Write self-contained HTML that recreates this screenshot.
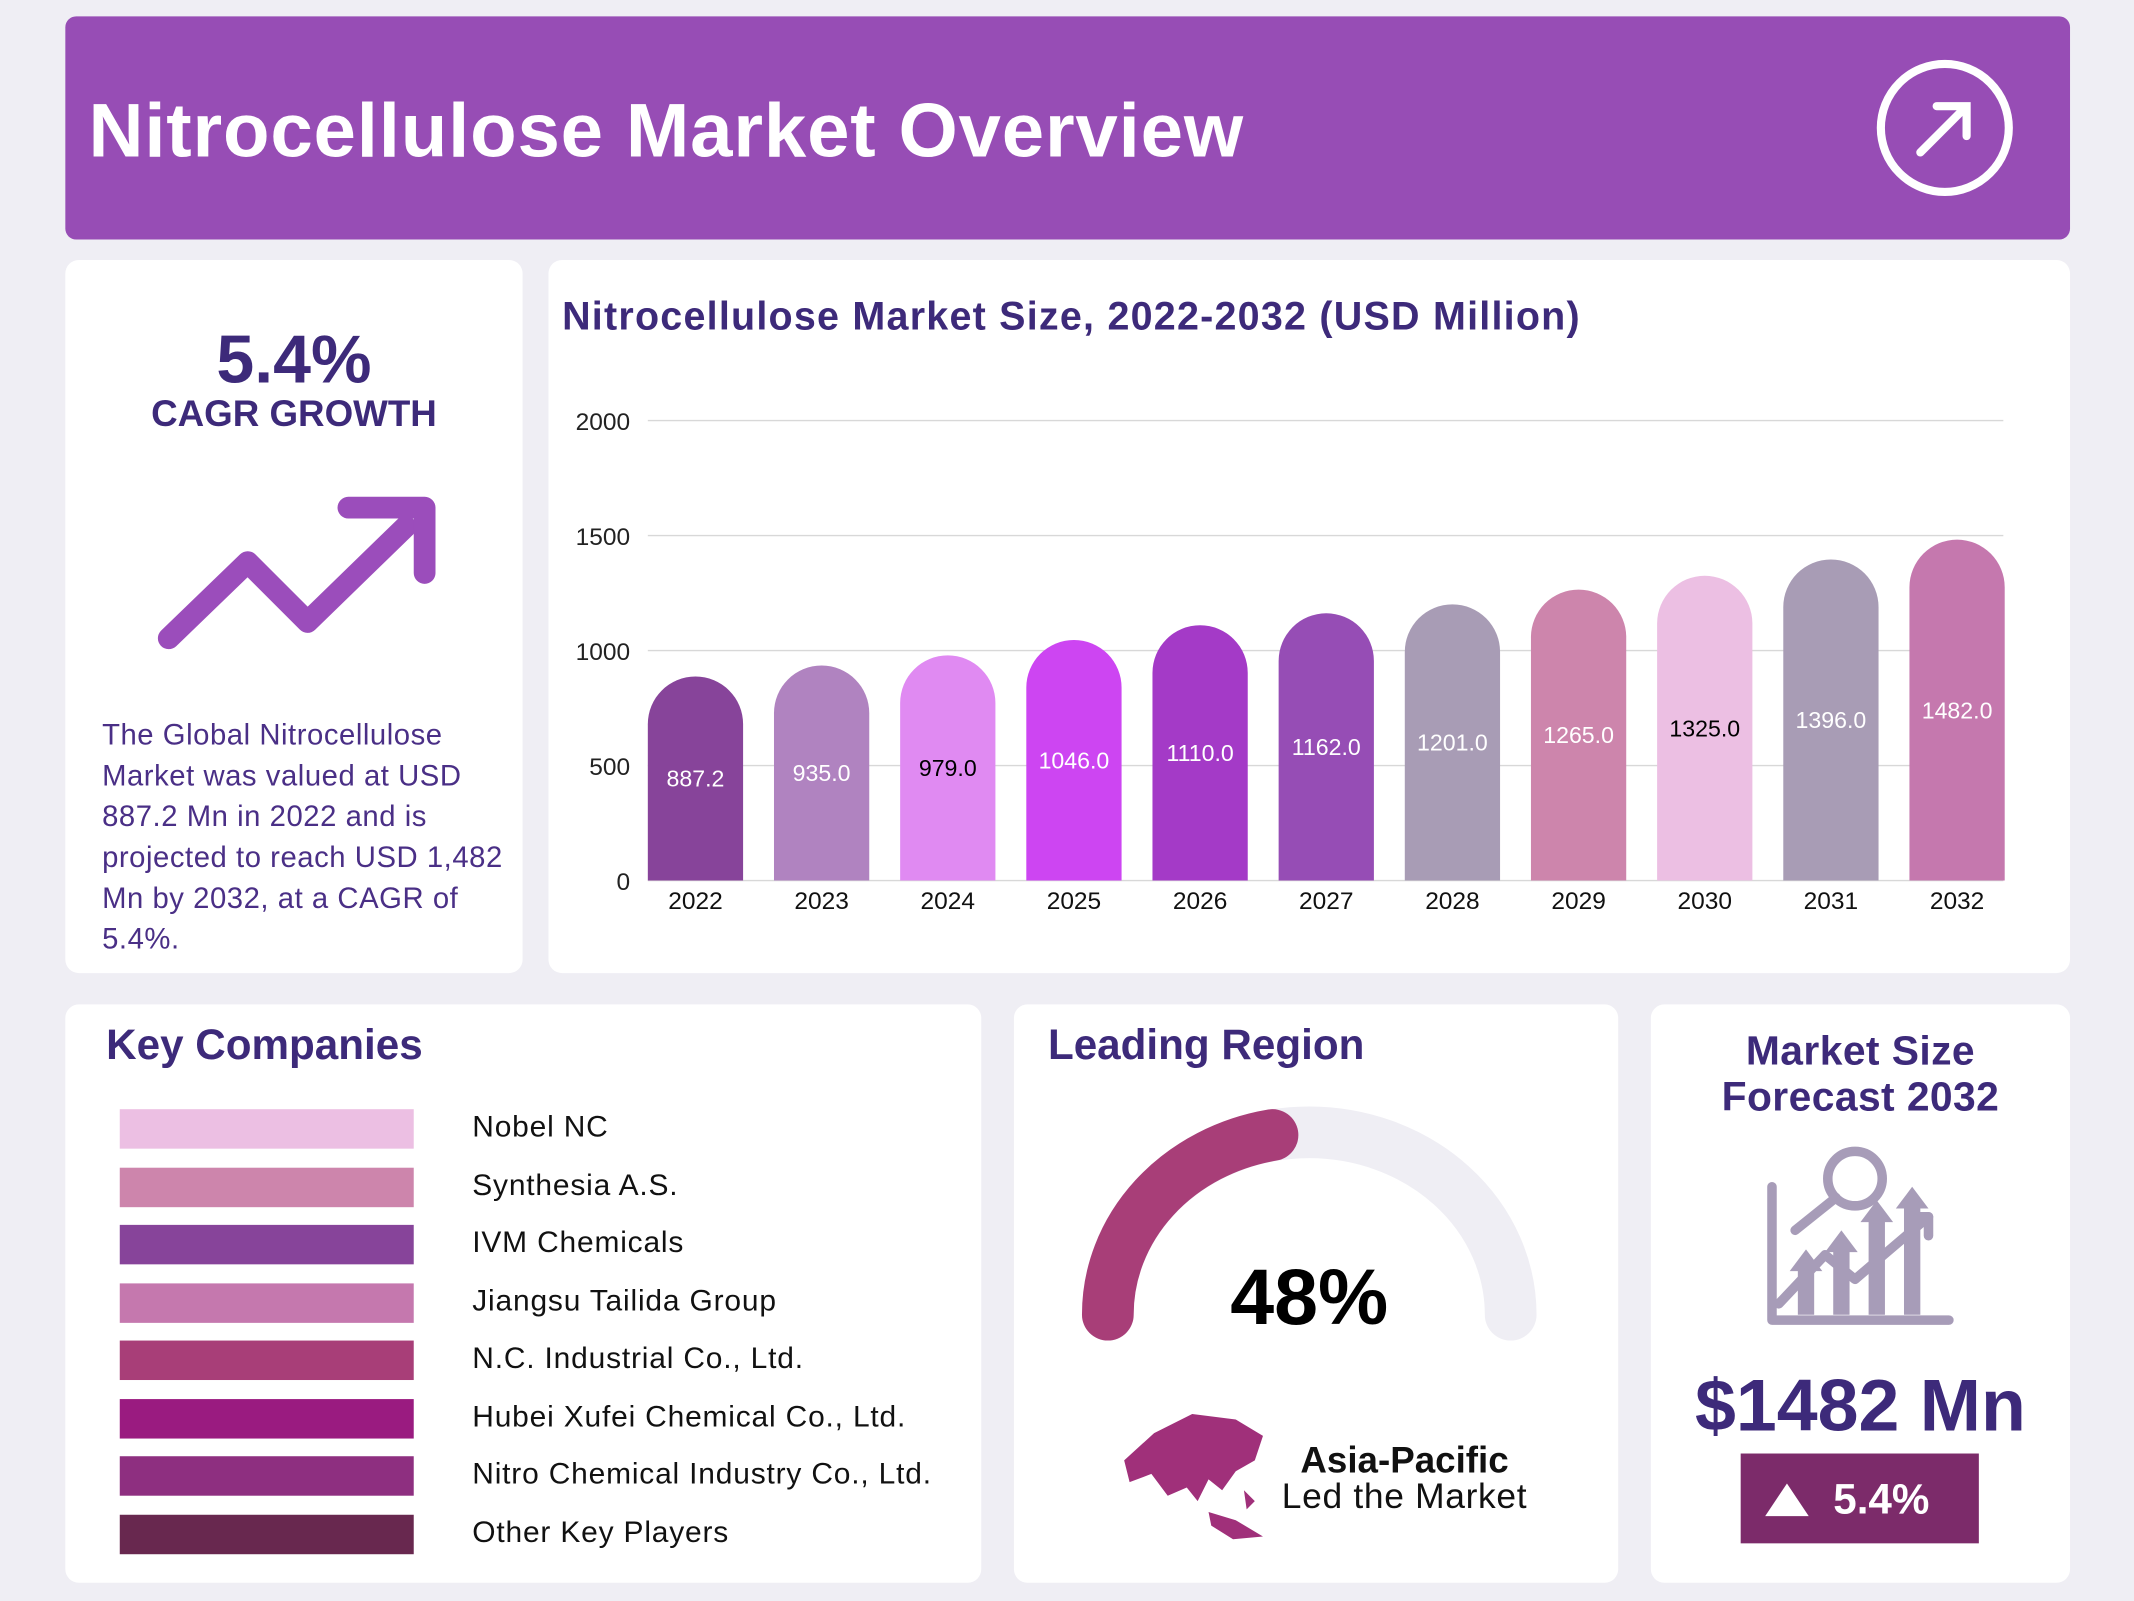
<!DOCTYPE html>
<html><head><meta charset="utf-8"><style>
html,body{margin:0;padding:0;width:2134px;height:1600px;overflow:hidden;background:#efeef4;}
#s{position:absolute;left:0;top:0;width:1568px;height:1176px;transform:scale(1.36097);transform-origin:0 0;font-family:"Liberation Sans","DejaVu Sans",sans-serif;}
.card{position:absolute;background:#fff;border-radius:10px;}
.t{position:absolute;white-space:nowrap;}
</style></head><body><div id="s">
<div class="card" style="left:48px;top:12px;width:1473px;height:164px;background:#974db5;border-radius:8px;">
 <div class="t" style="left:17px;top:51px;font-size:56px;letter-spacing:0.6px;font-weight:bold;color:#fff;">Nitrocellulose Market Overview</div>
 <svg style="position:absolute;left:1329px;top:30px" width="104" height="104"><circle cx="52" cy="52" r="47" fill="none" stroke="#fff" stroke-width="6"/><path d="M34 70 L68 36 M46 36 H68 V58" fill="none" stroke="#fff" stroke-width="6" stroke-linecap="round"/></svg>
</div>

<div class="card" style="left:48px;top:191px;width:336px;height:524px;">
 <div class="t" style="left:0;width:336px;text-align:center;top:44px;font-size:50px;font-weight:bold;color:#3d2a7a;">5.4%</div>
 <div class="t" style="left:0;width:336px;text-align:center;top:98px;font-size:27px;font-weight:bold;color:#3d2a7a;">CAGR GROWTH</div>
 <svg style="position:absolute;left:60px;top:170px" width="220" height="120"><path d="M16 108 L74 52 L118 96 L190 26" fill="none" stroke="#9b4dbb" stroke-width="16" stroke-linecap="round" stroke-linejoin="round"/><path d="M148 12 H204 V60" fill="none" stroke="#9b4dbb" stroke-width="16" stroke-linecap="round" stroke-linejoin="round"/></svg>
 <div style="position:absolute;left:27px;top:334px;width:312px;font-size:21.5px;letter-spacing:0.4px;line-height:30px;color:#4a2f86;">The Global Nitrocellulose Market was valued at USD 887.2 Mn in 2022 and is projected to reach USD 1,482 Mn by 2032, at a CAGR of 5.4%.</div>
</div>

<div class="card" style="left:403px;top:191px;width:1118px;height:524px;">
 <div class="t" style="left:10px;top:26px;font-size:29px;letter-spacing:0.9px;font-weight:bold;color:#3d2a7a;">Nitrocellulose Market Size, 2022-2032 (USD Million)</div>
</div>
<svg id="chart" style="position:absolute;left:0;top:0" width="1568" height="720"></svg>

<div class="card" style="left:48px;top:738px;width:673px;height:425px;">
 <div class="t" style="left:30px;top:12px;font-size:31px;font-weight:bold;color:#3d2a7a;">Key Companies</div>
 <div id="comp"></div>
</div>

<div class="card" style="left:745px;top:738px;width:444px;height:425px;">
 <div class="t" style="left:25px;top:12px;font-size:31px;font-weight:bold;color:#3d2a7a;">Leading Region</div>
 <svg style="position:absolute;left:0;top:60px" width="444" height="200">
  <path d="M69 168 A148 134 0 0 1 365 168" fill="none" stroke="#efeef4" stroke-width="38" stroke-linecap="round"/>
  <path d="M69 168 A148 134 0 0 1 190 36" fill="none" stroke="#a83e78" stroke-width="38" stroke-linecap="round"/>
 </svg>
 <div class="t" style="left:0;width:434px;text-align:center;top:182px;font-size:58px;font-weight:bold;color:#000;">48%</div>
 <svg style="position:absolute;left:73px;top:295px" width="120" height="102"><path d="M8 40 L30 20 L58 6 L90 10 L110 22 L104 40 L90 48 L80 62 L70 54 L62 70 L54 60 L40 66 L28 50 L12 56 Z M70 78 L90 84 L110 96 L88 98 L72 88 Z M96 62 L104 70 L98 76 Z" fill="#a0307a"/></svg>
 <div class="t" style="left:187px;width:200px;text-align:center;top:320px;font-size:27px;font-weight:bold;color:#111;">Asia-Pacific</div>
 <div class="t" style="left:187px;width:200px;text-align:center;top:346px;font-size:26px;letter-spacing:0.5px;color:#111;">Led the Market</div>
</div>

<div class="card" style="left:1213px;top:738px;width:308px;height:425px;">
 <div style="position:absolute;left:0;width:308px;text-align:center;top:18px;font-size:30px;letter-spacing:0.3px;line-height:34px;font-weight:bold;color:#3d2a7a;">Market Size<br>Forecast 2032</div>
 <svg style="position:absolute;left:84px;top:100px" width="140" height="140">
  <g fill="none" stroke="#a79cb8" stroke-width="7" stroke-linecap="round" stroke-linejoin="round"><path d="M5 34 V132 H135"/><path d="M10 120 L44 84 L66 102 L120 56"/><path d="M106 56 H120 V70"/><circle cx="66" cy="28" r="20"/><path d="M52 42 L22 66"/></g>
  <g fill="#a79cb8"><path d="M24 128 V96 H18 L30 80 L42 96 H36 V128Z"/><path d="M50 128 V82 H44 L56 66 L68 82 H62 V128Z"/><path d="M76 128 V60 H70 L82 44 L94 60 H88 V128Z"/><path d="M102 128 V50 H96 L108 34 L120 50 H114 V128Z"/></g>
 </svg>
 <div class="t" style="left:0;width:308px;text-align:center;top:264px;font-size:54px;font-weight:bold;color:#3d2a7a;">$1482 Mn</div>
 <div style="position:absolute;left:66px;top:330px;width:175px;height:66px;background:#7c2b6a;">
  <svg style="position:absolute;left:16px;top:20px" width="36" height="28"><path d="M18 2 L34 26 H2Z" fill="#fff"/></svg>
  <div class="t" style="left:68px;top:16px;font-size:31px;font-weight:bold;color:#fff;">5.4%</div>
 </div>
</div>
</div>
<script>
const years=["2022","2023","2024","2025","2026","2027","2028","2029","2030","2031","2032"];
const values=[887.2,935.0,979.0,1046.0,1110.0,1162.0,1201.0,1265.0,1325.0,1396.0,1482.0];
const barColors=["#87449a","#b083c0","#e08af2","#cd45f2","#a43ac7","#964db5","#a89cb5","#cd85ac","#ecbfe3","#a89cb5","#c578ae"];
const labelColors=["#fff","#fff","#000","#fff","#fff","#fff","#fff","#fff","#000","#fff","#fff"];
const yTicks=[0,500,1000,1500,2000];
const companies=["Nobel NC","Synthesia A.S.","IVM Chemicals","Jiangsu Tailida Group","N.C. Industrial Co., Ltd.","Hubei Xufei Chemical Co., Ltd.","Nitro Chemical Industry Co., Ltd.","Other Key Players"];
const companyColors=["#ecbfe3","#cd85ac","#87449a","#c578ae","#a83e78","#9a1b80","#8e2f80","#68284f"];
const NS="http://www.w3.org/2000/svg";
const svg=document.getElementById('chart');
const y0=647,yMax=2000,plotH=338,x0=476,step=92.7,bw=70;
const ys=v=>y0-v/yMax*plotH;
const xs=i=>x0+i*step+bw/2;
function mk(t,a){const e=document.createElementNS(NS,t);for(const k in a)e.setAttribute(k,a[k]);svg.appendChild(e);return e;}
yTicks.forEach((t,i)=>{
 const l=mk('line',{x1:476,x2:1472,y1:ys(t),y2:ys(t),stroke:'#d8d8d8','stroke-width':1});
 
 
 const tx=mk('text',{x:463,y:ys(t)+7,'text-anchor':'end','font-size':18,fill:'#222'});
 tx.textContent=t;
 
 
});
values.forEach((v,i)=>{
 const cx=xs(i),top=ys(v),r=bw/2,l=cx-r,rt=cx+r;
 const p=mk('path',{d:`M${l} ${y0} V${top+r} A${r} ${r} 0 0 1 ${rt} ${top+r} V${y0} Z`,fill:barColors[i]});
 
 
 const vt=mk('text',{x:cx,y:(top+y0)/2+6,'text-anchor':'middle','font-size':17,fill:labelColors[i]});
 vt.textContent=v.toFixed(1);
 
 
 const xt=mk('text',{x:cx,y:668,'text-anchor':'middle','font-size':18,fill:'#111'});
 xt.textContent=years[i];
 
 
});
const comp=document.getElementById('comp');
companies.forEach((c,i)=>{
 const top=77+i*42.5;
 const sw=document.createElement('div');
 sw.style.cssText=`position:absolute;left:40px;top:${top}px;width:216px;height:29px;background:${companyColors[i]};`;
 
 
 comp.appendChild(sw);
 const t=document.createElement('div');
 t.className='t';
 t.style.cssText=`left:299px;top:${top}px;font-size:22px;letter-spacing:0.6px;color:#111;`;
 t.textContent=c;
 
 
 comp.appendChild(t);
});
</script>
</body></html>
